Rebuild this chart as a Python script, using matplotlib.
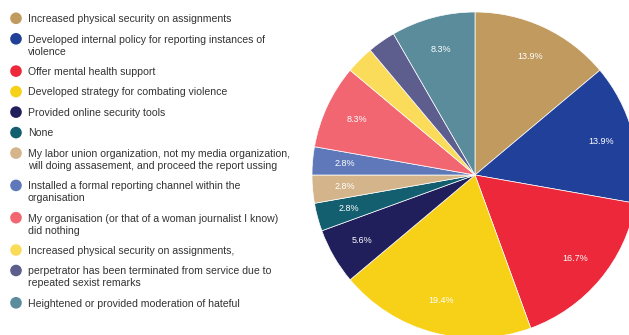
import matplotlib
matplotlib.use("Agg")
import matplotlib.pyplot as plt

labels = [
    "Increased physical security on assignments",
    "Developed internal policy for reporting instances of\nviolence",
    "Offer mental health support",
    "Developed strategy for combating violence",
    "Provided online security tools",
    "None",
    "My labor union organization, not my media organization,\nwill doing assasement, and proceed the report ussing",
    "Installed a formal reporting channel within the\norganisation",
    "My organisation (or that of a woman journalist I know)\ndid nothing",
    "Increased physical security on assignments,",
    "perpetrator has been terminated from service due to\nrepeated sexist remarks",
    "Heightened or provided moderation of hateful",
]
counts = [5, 5, 6, 7, 2, 1, 1, 1, 3, 1, 1, 3]
show_label = [True, True, True, True, True, True, True, True, True, False, False, True]
colors = ["#C09A5F", "#21409A", "#EC283A", "#F7D117", "#211E5C", "#135E6F",
          "#D4B48A", "#5E78BA", "#F26672", "#FBDC5A", "#5E5E8E", "#5A8C9C"]

plt.rcParams['font.family'] = ['Liberation Sans', 'DejaVu Sans']

W, H = 629, 335
fig = plt.figure(figsize=(W / 100, H / 100), dpi=100)

# Pie
cx, cy, r = 475, 175, 163
ax = fig.add_axes([(cx - r) / W, (H - cy - r) / H, 2 * r / W, 2 * r / H])
total = sum(counts)
wedges, texts = ax.pie(counts, colors=colors, startangle=90, counterclock=False,
                       wedgeprops=dict(linewidth=0.5, edgecolor="white"),
                       labels=[f"{100 * c / total:.1f}%" if s else "" for c, s in zip(counts, show_label)],
                       labeldistance=0.8, textprops=dict(color="white", fontsize=6.5))
for t in texts:
    t.set_ha("center")
    t.set_va("center")
ax.set_xlim(-1, 1)
ax.set_ylim(-1, 1)
ax.set_aspect("equal")

# Legend (manual)
lax = fig.add_axes([0, 0, 1, 1])
lax.set_xlim(0, W)
lax.set_ylim(H, 0)
lax.axis("off")
y = 18.3
for lab, col in zip(labels, colors):
    lax.scatter([16], [y], s=70, color=col, edgecolors="none")
    lines = lab.split("\n")
    for i, line in enumerate(lines):
        lax.text(28, y + 3.8 + 12 * i, line, ha="left", va="baseline", fontsize=7.6,
                 color="#333333")
    y += 20.5 if len(lines) == 1 else 32.3

fig.savefig("out.png", dpi=100)
